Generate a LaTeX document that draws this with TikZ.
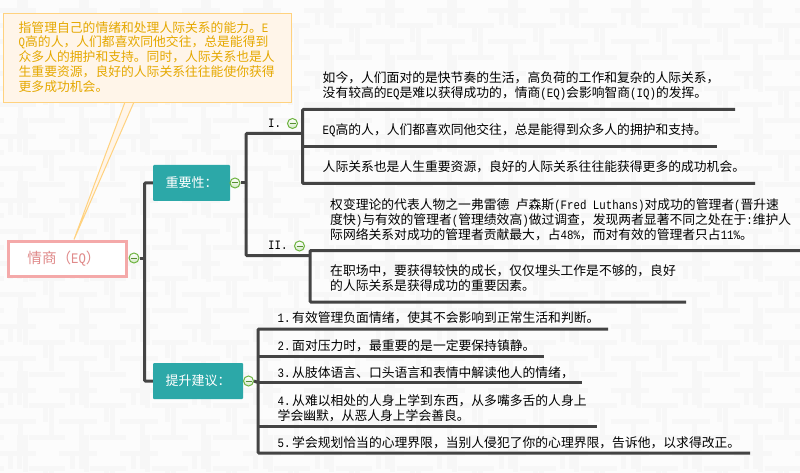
\documentclass[tikz,border=0pt]{standalone}
\usepackage{fontspec}
\setmainfont{Noto Sans CJK SC}
\newfontfamily\latf[FakeStretch=0.84]{Liberation Mono}
\newcommand{\lat}[1]{{\latf #1}}
\newcommand{\numb}[1]{{\latf #1.}\hspace{1.6pt}}
\definecolor{bgc}{HTML}{FCFCFC}
\definecolor{tilec}{HTML}{F7F7F7}
\definecolor{linec}{HTML}{444444}
\definecolor{teal1}{HTML}{2CA8A8}
\definecolor{callb}{HTML}{FFD27F}
\definecolor{callf}{HTML}{FFF5E9}
\definecolor{callt}{HTML}{E5A800}
\definecolor{rootb}{HTML}{F4A9A9}
\definecolor{roott}{HTML}{E08A8A}
\definecolor{iconc}{HTML}{6DB33F}
\tikzset{
 conn/.style={draw=linec,line width=3pt,rounded corners=1pt,line cap=butt},
 txt/.style={inner sep=0pt,anchor=west,align=left,text=black,font=\fontsize{12.8}{15}\selectfont},
 branch/.style={fill=teal1,text=white,inner sep=0pt,rounded corners=1pt,font=\fontsize{13}{15}\selectfont},
 iconn/.style={circle,draw=iconc,line width=1pt,minimum size=10pt,inner sep=0pt,top color=white,bottom color=iconc!30,
   path picture={\draw[iconc!80!black,line width=1pt] ([xshift=-3pt]path picture bounding box.center) -- ([xshift=3pt]path picture bounding box.center);}},
}
\begin{document}
\begin{tikzpicture}[x=1pt,y=-1pt]
\useasboundingbox (0,0) rectangle (800,473);
\fill[bgc] (0,0) rectangle (800,473);
\begin{scope}
\clip (0,0) rectangle (800,473);
\foreach \i in {-1,...,13} \foreach \j in {-1,...,7} {
 \draw[tilec,line width=5pt,shift={(\i*61.33,26.67+\j*63.33)}]
   (29,30.7) -- (65,30.7)
   (59,15) -- (97,15) (59,46.7) -- (97,46.7)
   (29,62.3) -- (65,62.3)
   (20,12.5) -- (20,49) (25,28) -- (25,65)
   (45,0) -- (45,15) (51,-3) -- (51,28)
   (81.3,28) -- (81.3,62) (72,46.7) -- (72,62);
}
\end{scope}

% callout
\coordinate (tailA) at (125,102);
\coordinate (tailB) at (134,102);
\node[draw=rootb,fill=white,line width=3pt,inner sep=0pt,minimum width=118pt,minimum height=35pt,text=roott,font=\fontsize{14.6}{18}\selectfont] (root) at (67.5,258.5) {情商（\lat{EQ}）\hspace*{7pt}};
\draw[draw=callb,fill=callf,line width=1pt,line join=bevel] (tailA) -- (root.north -| 74,0) -- (tailB);
\node[draw=callb,fill=callf,line width=1pt,inner sep=0pt,minimum width=288pt,minimum height=89pt,anchor=north west] (call) at (2.5,13) {};
\node[txt,text=callt,font=\fontsize{12.8}{14.9}\selectfont] (calltxt) at (18.5,57)
 {指管理自己的情绪和处理人际关系的能力。\lat{E}\\ \lat{Q}高的人，人们都喜欢同他交往，总是能得到\\ 众多人的拥护和支持。同时，人际关系也是人\\ 生重要资源，良好的人际关系往往能使你获得\\ 更多成功机会。};

% branches
\node[branch,minimum width=77pt,minimum height=36pt] (imp) at (191.5,183) {重要性：};
\node[branch,minimum width=90pt,minimum height=36pt] (adv) at (198,381) {提升建议：};

% icons
\node[iconn] (iroot) at (134,258) {};
\node[iconn] (iimp) at (235,183) {};
\node[iconn] (iadv) at (248.5,381) {};
\node[iconn] (iI) at (292.5,123.5) {};
\node[iconn] (iII) at (299.5,246) {};

% section labels
\node[txt] (lI) at (268,123.5) {\lat{I.}};
\node[txt] (lII) at (268,245.5) {\lat{II.}};

% texts of group I
\node[txt] (a1) at (322.5,86) {如今，人们面对的是快节奏的生活，高负荷的工作和复杂的人际关系，\\ 没有较高的\lat{EQ}是难以获得成功的，情商\lat{(EQ)}会影响智商\lat{(IQ)}的发挥。};
\node[txt] (a2) at (322.5,130) {\lat{EQ}高的人，人们都喜欢同他交往，总是能得到众多人的拥护和支持。};
\node[txt] (a3) at (322.5,167) {人际关系也是人生重要资源，良好的人际关系往往能获得更多的成功机会。};
% texts of group II
\node[txt] (b1) at (330,220) {权变理论的代表人物之一弗雷德\lat{  }卢森斯\lat{(Fred Luthans)}对成功的管理者\lat{(}晋升速\\ 度快\lat{)}与有效的管理者\lat{(}管理绩效高\lat{)}做过调查，发现两者显著不同之处在于\lat{:}维护人\\ 际网络关系对成功的管理者贡献最大，占\lat{48\%}，而对有效的管理者只占\lat{11\%}。};
\node[txt] (b2) at (330,278.5) {在职场中，要获得较快的成长，仅仅埋头工作是不够的，良好\\ 的人际关系是获得成功的重要因素。};
% advice
\node[txt] (c1) at (277.5,318) {\numb{1}有效管理负面情绪，使其不会影响到正常生活和判断。};
\node[txt] (c2) at (277.5,346) {\numb{2}面对压力时，最重要的是一定要保持镇静。};
\node[txt] (c3) at (277.5,372.5) {\numb{3}从肢体语言、口头语言和表情中解读他人的情绪，};
\node[txt] (c4) at (277.5,408.5) {\numb{4}从难以相处的人身上学到东西，从多嘴多舌的人身上\\ 学会幽默，从恶人身上学会善良。};
\node[txt] (c5) at (277.5,443) {\numb{5}学会规划恰当的心理界限，当别人侵犯了你的心理界限，告诉他，以求得改正。};

% connector points
\coordinate (tr0) at (144.5,258);
\coordinate (tr1) at (246,183);
\coordinate (jI) at (302.5,133.5);
\coordinate (jII) at (310,255.5);
\coordinate (tr2) at (258,382);
\coordinate (a1e) at (735,109.5);
\coordinate (a2e) at (717,146.5);
\coordinate (a3e) at (755,183.5);
\coordinate (b1e) at (800,250.5);
\coordinate (b2e) at (686,302);
\coordinate (c1e) at (608,329);
\coordinate (c2e) at (544,356);
\coordinate (c3e) at (582,382.5);
\coordinate (c4e) at (597,426.5);
\coordinate (c5e) at (750,453);

\draw[conn] (iroot.east) -- (tr0);
\draw[conn] (imp.west) -| (tr0) |- (adv.west);
\draw[conn] (iimp.east) -- (tr1);
\draw[conn] (jI) -| (tr1) |- (jII);
\draw[conn] (a1e) -| (jI) |- (a3e);
\draw[conn] (jI |- a2e) -- (a2e);
\draw[conn] (b1e) -| (jII) |- (b2e);
\draw[conn] (iadv.east) -- (tr2 |- c3e);
\draw[conn] (c1e) -| (tr2) |- (c5e);
\draw[conn] (tr2 |- c2e) -- (c2e);
\draw[conn] (tr2 |- c3e) -- (c3e);
\draw[conn] (tr2 |- c4e) -- (c4e);
\end{tikzpicture}
\end{document}
